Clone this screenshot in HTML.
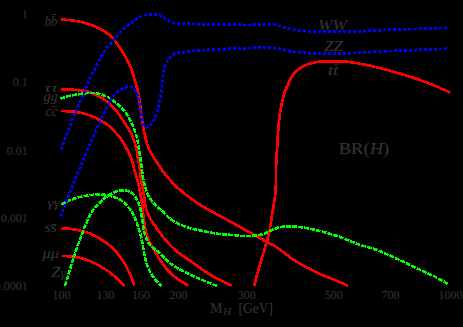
<!DOCTYPE html>
<html><head><meta charset="utf-8">
<style>
html,body{margin:0;padding:0;background:#000;}
body{width:463px;height:327px;overflow:hidden;}
svg{display:block;}
text{font-family:"Liberation Serif",serif;fill:#363636;}
.t{font-size:12px;}
.l{font-size:14.5px;font-style:italic;}
</style></head><body>
<svg width="463" height="327" viewBox="0 0 463 327">
<rect width="463" height="327" fill="#000"/>
<g class="t" text-anchor="end">
<text x="27.8" y="17.6">1</text>
<text x="27.8" y="86">0.1</text>
<text x="27.8" y="154.5">0.01</text>
<text x="27.8" y="222">0.001</text>
<text x="27.8" y="290.2">0.0001</text>
</g>
<g class="t" text-anchor="middle">
<text x="61.5" y="299.4">100</text>
<text x="105.6" y="299.4">130</text>
<text x="141" y="299.4">160</text>
<text x="178.6" y="299.4">200</text>
<text x="246.8" y="299.4">300</text>
<text x="333.7" y="299.4">500</text>
<text x="390.6" y="299.4">700</text>
<text x="450.6" y="299.4">1000</text>
</g>
<g class="l">
<text x="44.8" y="26.3" textLength="12.5" lengthAdjust="spacingAndGlyphs">bb</text>
<rect x="51.5" y="14" width="5" height="0.8" fill="#363636"/>
<text x="44" y="91.7" font-size="13.5" textLength="13.8" lengthAdjust="spacingAndGlyphs">ττ</text>
<text x="43.6" y="100.6" textLength="14.2" lengthAdjust="spacingAndGlyphs">gg</text>
<text x="45.6" y="115.6" textLength="11.7" lengthAdjust="spacingAndGlyphs">cc</text>
<rect x="51.8" y="106.4" width="5" height="0.8" fill="#363636"/>
<text x="47.5" y="207" font-size="11.5" textLength="12.3" lengthAdjust="spacingAndGlyphs">γγ</text>
<text x="44.5" y="232.4" textLength="12" lengthAdjust="spacingAndGlyphs">ss</text>
<rect x="51.5" y="224" width="5" height="0.8" fill="#363636"/>
<text x="42.5" y="257.5" textLength="16.5" lengthAdjust="spacingAndGlyphs">μμ</text>
<text x="51" y="276.5" textLength="15" lengthAdjust="spacingAndGlyphs">Z<tspan font-size="11.5">γ</tspan></text>
<text x="318" y="29.5" textLength="29" lengthAdjust="spacingAndGlyphs">WW</text>
<text x="324" y="51" textLength="19" lengthAdjust="spacingAndGlyphs">ZZ</text>
<text x="328" y="75" textLength="10.5" lengthAdjust="spacingAndGlyphs">tt</text>
<rect x="334" y="64.5" width="4.5" height="0.8" fill="#363636"/>
</g>
<text x="338.7" y="154" font-size="17.5" textLength="50.6" lengthAdjust="spacingAndGlyphs">BR(<tspan font-style="italic">H</tspan>)</text>
<text x="210.2" y="313.1" font-size="14.5" textLength="12.2" lengthAdjust="spacingAndGlyphs">M</text><text x="223" y="315.4" font-size="10" font-style="italic" textLength="8" lengthAdjust="spacingAndGlyphs">H</text><text x="238.4" y="313.1" font-size="14.5" textLength="34.6" lengthAdjust="spacingAndGlyphs">[GeV]</text>
<path d="M61.0,19.8 L62.5,19.8 L64.0,19.8 L65.5,19.8 L67.0,19.9 L68.5,20.0 L70.0,20.1 L71.5,20.3 L73.0,20.5 L74.5,20.7 L76.0,21.0 L77.5,21.2 L79.0,21.5 L80.4,21.9 L81.9,22.2 L83.4,22.6 L84.8,23.0 L86.3,23.4 L87.7,23.8 L89.1,24.3 L90.6,24.8 L92.0,25.3 L93.4,25.8 L94.8,26.4 L96.2,27.0 L97.5,27.6 L98.9,28.3 L100.2,28.9 L101.6,29.7 L102.9,30.4 L104.2,31.2 L105.4,32.1 L106.6,33.0 L107.8,33.9 L109.0,34.8 L110.1,35.8 L111.2,36.9 L112.3,37.9 L113.3,39.0 L114.3,40.2 L115.3,41.3 L116.2,42.5 L117.1,43.7 L118.0,45.0 L118.8,46.2 L119.7,47.5 L120.5,48.7 L121.3,50.0 L122.1,51.3 L122.9,52.5 L123.7,53.8 L124.5,55.1 L125.2,56.4 L126.0,57.7 L126.7,59.1 L127.4,60.4 L128.1,61.7 L128.8,63.1 L129.4,64.4 L130.0,65.8 L130.6,67.2 L131.2,68.6 L131.7,70.0 L132.2,71.4 L132.6,72.9 L133.1,74.3 L133.5,75.7 L133.9,77.2 L134.3,78.6 L134.7,80.1 L135.2,81.5 L135.6,83.0 L136.0,84.4 L136.4,85.9 L136.8,87.3 L137.2,88.8 L137.6,90.3 L137.9,91.7 L138.3,93.2 L138.5,94.7 L138.8,96.1 L139.0,97.6 L139.3,99.1 L139.5,100.6 L139.7,102.1 L139.9,103.6 L140.1,105.1 L140.3,106.6 L140.5,108.1 L140.7,109.6 L140.9,111.1 L141.1,112.6 L141.3,114.0 L141.5,115.5 L141.7,117.0 L141.9,118.5 L142.1,120.0 L142.3,121.5 L142.6,123.0 L142.8,124.5 L143.0,126.0 L143.3,127.4 L143.5,128.9 L143.8,130.4 L144.1,131.9 L144.4,133.4 L144.8,134.8 L145.1,136.3 L145.5,137.8 L145.8,139.2 L146.2,140.7 L146.6,142.1 L147.1,143.6 L147.5,145.0 L148.0,146.4 L148.6,147.8 L149.2,149.2 L149.9,150.5 L150.6,151.9 L151.3,153.2 L152.1,154.5 L152.8,155.8 L153.6,157.1 L154.4,158.4 L155.2,159.7 L156.0,160.9 L156.8,162.2 L157.6,163.5 L158.4,164.7 L159.3,166.0 L160.1,167.2 L161.0,168.5 L161.8,169.7 L162.7,170.9 L163.6,172.1 L164.5,173.4 L165.4,174.5 L166.4,175.7 L167.3,176.9 L168.3,178.0 L169.3,179.2 L170.3,180.3 L171.3,181.4 L172.3,182.5 L173.4,183.6 L174.4,184.7 L175.5,185.7 L176.6,186.7 L177.7,187.8 L178.8,188.8 L180.0,189.8 L181.1,190.8 L182.3,191.7 L183.4,192.7 L184.6,193.7 L185.7,194.6 L186.9,195.5 L188.1,196.5 L189.3,197.4 L190.5,198.3 L191.7,199.2 L192.9,200.1 L194.2,200.9 L195.4,201.8 L196.7,202.6 L197.9,203.4 L199.2,204.2 L200.5,205.0 L201.8,205.8 L203.1,206.6 L204.4,207.3 L205.7,208.1 L207.0,208.8 L208.3,209.6 L209.6,210.3 L210.9,211.0 L212.3,211.8 L213.6,212.5 L214.9,213.2 L216.2,213.9 L217.5,214.6 L218.9,215.4 L220.2,216.1 L221.5,216.8 L222.8,217.5 L224.2,218.2 L225.5,218.9 L226.8,219.7 L228.1,220.4 L229.4,221.1 L230.8,221.9 L232.1,222.6 L233.4,223.3 L234.7,224.1 L236.0,224.8 L237.3,225.5 L238.6,226.3 L239.9,227.0 L241.3,227.7 L242.6,228.5 L243.9,229.2 L245.2,229.9 L246.5,230.7 L247.8,231.4 L249.2,232.1 L250.5,232.9 L251.8,233.6 L253.1,234.3 L254.4,235.1 L255.7,235.8 L257.1,236.5 L258.4,237.2 L259.7,238.0 L261.0,238.7 L262.3,239.4 L263.7,240.1 L265.0,240.8 L266.3,241.5 L267.7,242.2 L269.0,242.9 L270.4,243.6 L271.7,244.3 L273.0,245.0 L274.3,245.8 L275.6,246.6 L276.9,247.4 L278.1,248.2 L279.3,249.1 L280.6,250.0 L281.7,250.9 L282.9,251.8 L284.1,252.7 L285.3,253.7 L286.5,254.6 L287.7,255.5 L288.9,256.5 L290.1,257.3 L291.3,258.2 L292.5,259.1 L293.8,259.9 L295.1,260.8 L296.3,261.6 L297.6,262.3 L298.9,263.1 L300.2,263.9 L301.5,264.6 L302.9,265.3 L304.2,266.0 L305.5,266.7 L306.9,267.4 L308.2,268.1 L309.5,268.8 L310.8,269.5 L312.2,270.2 L313.5,270.9 L314.9,271.6 L316.2,272.3 L317.6,272.9 L318.9,273.6 L320.3,274.2 L321.7,274.8 L323.1,275.3 L324.5,275.9 L325.9,276.4 L327.3,277.0 L328.7,277.5 L330.1,278.1 L331.5,278.6 L332.9,279.2 L334.3,279.8 L335.7,280.4 L337.0,281.0 L338.4,281.6 L339.8,282.2 L341.2,282.8 L342.5,283.4 L343.9,284.1 L345.3,284.7 L346.7,285.3 L348.0,285.9" fill="none" stroke="#ff0000" stroke-width="2.7" stroke-linejoin="round" shape-rendering="crispEdges"/>
<path d="M61.2,89.4 L62.7,89.4 L64.2,89.4 L65.8,89.4 L67.3,89.5 L68.8,89.5 L70.3,89.6 L71.8,89.7 L73.3,89.8 L74.8,89.9 L76.3,90.0 L77.8,90.1 L79.3,90.3 L80.8,90.5 L82.4,90.7 L83.9,90.9 L85.4,91.2 L86.9,91.5 L88.3,91.8 L89.8,92.2 L91.2,92.7 L92.6,93.3 L94.0,93.9 L95.4,94.5 L96.7,95.2 L98.1,95.9 L99.4,96.6 L100.7,97.4 L102.1,98.1 L103.3,98.9 L104.6,99.8 L105.8,100.7 L107.0,101.6 L108.2,102.6 L109.3,103.6 L110.4,104.7 L111.5,105.7 L112.5,106.8 L113.6,107.9 L114.6,109.0 L115.6,110.2 L116.6,111.3 L117.5,112.5 L118.4,113.7 L119.3,114.9 L120.2,116.2 L121.1,117.4 L121.9,118.7 L122.8,119.9 L123.6,121.2 L124.4,122.5 L125.2,123.7 L126.0,125.0 L126.9,126.3 L127.7,127.6 L128.5,128.9 L129.3,130.2 L130.0,131.5 L130.8,132.8 L131.5,134.1 L132.1,135.5 L132.7,136.9 L133.3,138.3 L133.8,139.7 L134.3,141.2 L134.8,142.6 L135.2,144.1 L135.6,145.5 L135.9,147.0 L136.3,148.5 L136.6,150.0 L136.9,151.4 L137.1,152.9 L137.3,154.4 L137.6,155.9 L137.8,157.4 L138.0,158.9 L138.3,160.4 L138.6,161.9 L138.9,163.4 L139.2,164.9 L139.5,166.4 L139.7,167.9 L140.0,169.4 L140.1,170.9 L140.3,172.4 L140.5,173.9 L140.6,175.4 L140.7,176.9 L140.9,178.4 L141.1,179.9 L141.3,181.4 L141.6,182.9 L141.9,184.4 L142.2,185.9 L142.5,187.4 L142.8,188.8 L143.1,190.3 L143.3,191.8 L143.6,193.3 L143.8,194.8 L144.0,196.3 L144.2,197.8 L144.4,199.3 L144.6,200.8 L144.8,202.3 L145.1,203.8 L145.3,205.3 L145.6,206.8 L146.0,208.3 L146.4,209.7 L146.9,211.2 L147.4,212.6 L148.0,214.0 L148.6,215.4 L149.3,216.7 L150.0,218.1 L150.7,219.4 L151.6,220.7 L152.4,221.9 L153.2,223.2 L154.1,224.4 L155.0,225.7 L155.9,226.9 L156.7,228.1 L157.6,229.4 L158.5,230.6 L159.4,231.8 L160.2,233.1 L161.1,234.3 L162.0,235.5 L162.9,236.7 L163.9,237.9 L164.8,239.1 L165.8,240.3 L166.8,241.4 L167.8,242.6 L168.8,243.7 L169.8,244.8 L170.9,245.9 L172.0,247.0 L173.1,248.0 L174.2,249.0 L175.3,250.0 L176.5,251.0 L177.6,252.0 L178.8,252.9 L180.0,253.8 L181.3,254.7 L182.5,255.6 L183.7,256.5 L185.0,257.4 L186.2,258.2 L187.5,259.1 L188.7,259.9 L190.0,260.7 L191.2,261.6 L192.5,262.5 L193.7,263.3 L195.0,264.2 L196.2,265.1 L197.4,266.0 L198.7,266.8 L199.9,267.7 L201.1,268.6 L202.4,269.5 L203.6,270.3 L204.9,271.2 L206.1,272.0 L207.4,272.8 L208.7,273.7 L210.0,274.5 L211.3,275.2 L212.6,276.0 L213.9,276.8 L215.2,277.5 L216.5,278.3 L217.9,279.0 L219.2,279.7 L220.5,280.4 L221.9,281.1 L223.2,281.8 L224.6,282.5 L225.9,283.2 L227.3,283.8 L228.6,284.5 L230.0,285.2 L231.3,285.9" fill="none" stroke="#ff0000" stroke-width="2.7" stroke-linejoin="round" shape-rendering="crispEdges"/>
<path d="M61.2,111.0 L62.7,111.0 L64.2,111.1 L65.7,111.1 L67.2,111.2 L68.8,111.3 L70.3,111.4 L71.8,111.5 L73.3,111.7 L74.8,111.9 L76.3,112.1 L77.8,112.3 L79.3,112.5 L80.8,112.8 L82.2,113.1 L83.7,113.5 L85.2,113.9 L86.6,114.3 L88.1,114.8 L89.5,115.3 L90.9,115.8 L92.3,116.4 L93.7,117.0 L95.0,117.7 L96.4,118.4 L97.7,119.1 L99.1,119.8 L100.4,120.5 L101.8,121.2 L103.1,122.0 L104.4,122.7 L105.7,123.5 L107.0,124.3 L108.2,125.2 L109.3,126.2 L110.4,127.2 L111.5,128.3 L112.6,129.4 L113.6,130.5 L114.7,131.6 L115.7,132.7 L116.7,133.8 L117.7,135.0 L118.7,136.1 L119.6,137.3 L120.6,138.5 L121.4,139.7 L122.3,141.0 L123.1,142.3 L123.8,143.6 L124.6,144.9 L125.3,146.2 L126.0,147.5 L126.7,148.9 L127.4,150.2 L128.1,151.6 L128.8,152.9 L129.4,154.3 L130.0,155.7 L130.6,157.1 L131.2,158.5 L131.7,159.9 L132.2,161.4 L132.7,162.8 L133.1,164.3 L133.5,165.7 L133.8,167.2 L134.1,168.7 L134.5,170.1 L134.9,171.6 L135.3,173.1 L135.7,174.5 L136.1,176.0 L136.5,177.4 L137.0,178.9 L137.4,180.3 L137.8,181.8 L138.2,183.2 L138.6,184.7 L138.9,186.2 L139.3,187.7 L139.6,189.1 L139.9,190.6 L140.1,192.1 L140.4,193.6 L140.6,195.1 L140.8,196.6 L141.1,198.1 L141.3,199.6 L141.6,201.1 L141.9,202.6 L142.1,204.1 L142.3,205.5 L142.5,207.0 L142.7,208.5 L142.8,210.1 L142.9,211.6 L143.0,213.1 L143.2,214.6 L143.3,216.1 L143.5,217.6 L143.7,219.1 L143.9,220.6 L144.2,222.1 L144.4,223.6 L144.7,225.1 L144.9,226.6 L145.2,228.1 L145.5,229.6 L145.8,231.1 L146.1,232.5 L146.5,234.0 L146.9,235.4 L147.3,236.9 L147.9,238.3 L148.4,239.7 L149.1,241.1 L149.8,242.4 L150.5,243.8 L151.2,245.1 L151.9,246.4 L152.7,247.7 L153.4,249.1 L154.2,250.4 L154.9,251.7 L155.7,253.0 L156.5,254.3 L157.2,255.6 L158.0,256.9 L158.8,258.2 L159.6,259.4 L160.5,260.7 L161.3,262.0 L162.2,263.2 L163.1,264.4 L164.0,265.6 L164.9,266.8 L165.9,268.0 L166.9,269.2 L167.9,270.3 L168.9,271.4 L170.0,272.5 L171.1,273.5 L172.2,274.6 L173.3,275.5 L174.5,276.5 L175.7,277.5 L176.9,278.4 L178.1,279.3 L179.3,280.1 L180.6,281.0 L181.9,281.8 L183.1,282.6 L184.4,283.4 L185.7,284.2 L187.0,285.1 L188.2,285.9" fill="none" stroke="#ff0000" stroke-width="2.7" stroke-linejoin="round" shape-rendering="crispEdges"/>
<path d="M61.5,228.3 L63.0,228.4 L64.6,228.4 L66.1,228.5 L67.6,228.7 L69.2,228.8 L70.7,229.0 L72.2,229.2 L73.8,229.4 L75.3,229.6 L76.8,229.9 L78.3,230.2 L79.8,230.5 L81.3,230.9 L82.8,231.3 L84.3,231.7 L85.8,232.1 L87.2,232.6 L88.7,233.1 L90.1,233.7 L91.6,234.3 L93.0,234.9 L94.4,235.6 L95.7,236.3 L97.1,237.0 L98.5,237.7 L99.8,238.5 L101.1,239.3 L102.4,240.2 L103.7,241.0 L105.0,241.9 L106.2,242.8 L107.4,243.7 L108.6,244.7 L109.8,245.7 L111.0,246.7 L112.1,247.8 L113.2,248.8 L114.3,249.9 L115.4,251.0 L116.4,252.2 L117.4,253.4 L118.4,254.6 L119.3,255.8 L120.3,257.0 L121.2,258.3 L122.0,259.5 L122.9,260.8 L123.7,262.1 L124.5,263.4 L125.3,264.7 L126.1,266.1 L126.8,267.4 L127.5,268.8 L128.2,270.2 L128.9,271.6 L129.5,273.0 L130.1,274.4 L130.7,275.8 L131.3,277.3 L131.8,278.7 L132.3,280.1 L132.9,281.6 L133.4,283.0 L134.0,284.5 L134.6,285.9" fill="none" stroke="#ff0000" stroke-width="2.7" stroke-linejoin="round" shape-rendering="crispEdges"/>
<path d="M61.5,256.0 L63.0,256.0 L64.6,256.1 L66.2,256.1 L67.7,256.2 L69.3,256.3 L70.8,256.5 L72.4,256.6 L73.9,256.8 L75.5,257.1 L77.0,257.3 L78.6,257.6 L80.1,258.0 L81.6,258.3 L83.1,258.7 L84.6,259.2 L86.1,259.7 L87.5,260.2 L89.0,260.8 L90.4,261.4 L91.8,262.0 L93.3,262.6 L94.7,263.3 L96.1,264.0 L97.4,264.8 L98.8,265.5 L100.2,266.2 L101.6,267.0 L102.9,267.8 L104.2,268.6 L105.5,269.5 L106.8,270.3 L108.1,271.2 L109.4,272.1 L110.6,273.1 L111.8,274.1 L113.0,275.1 L114.2,276.1 L115.3,277.1 L116.5,278.2 L117.6,279.3 L118.7,280.4 L119.8,281.5 L120.9,282.6 L122.0,283.7 L123.1,284.8 L124.2,285.9" fill="none" stroke="#ff0000" stroke-width="2.7" stroke-linejoin="round" shape-rendering="crispEdges"/>
<path d="M254.2,285.9 L254.6,284.4 L255.0,283.0 L255.4,281.5 L255.7,280.0 L256.1,278.6 L256.4,277.1 L256.8,275.6 L257.2,274.2 L257.6,272.7 L258.0,271.3 L258.4,269.8 L258.8,268.4 L259.2,266.9 L259.7,265.5 L260.1,264.0 L260.6,262.6 L261.0,261.1 L261.5,259.7 L261.9,258.2 L262.3,256.8 L262.8,255.4 L263.2,253.9 L263.6,252.5 L264.1,251.0 L264.5,249.6 L264.9,248.1 L265.3,246.7 L265.7,245.2 L266.2,243.8 L266.6,242.3 L267.0,240.9 L267.4,239.4 L267.8,237.9 L268.2,236.5 L268.6,235.0 L269.0,233.6 L269.3,232.1 L269.6,230.6 L269.9,229.1 L270.1,227.6 L270.4,226.1 L270.6,224.6 L270.8,223.1 L271.0,221.7 L271.2,220.2 L271.4,218.7 L271.7,217.2 L271.9,215.7 L272.1,214.2 L272.4,212.7 L272.6,211.2 L272.9,209.7 L273.2,208.2 L273.4,206.7 L273.7,205.2 L273.9,203.8 L274.1,202.3 L274.4,200.8 L274.6,199.3 L274.8,197.8 L275.0,196.3 L275.2,194.8 L275.3,193.3 L275.5,191.8 L275.6,190.3 L275.7,188.8 L275.8,187.2 L275.8,185.7 L275.9,184.2 L275.9,182.7 L276.0,181.2 L276.0,179.7 L276.0,178.2 L276.0,176.7 L276.0,175.2 L276.0,173.7 L276.0,172.1 L276.1,170.6 L276.1,169.1 L276.1,167.6 L276.1,166.1 L276.2,164.6 L276.2,163.1 L276.3,161.6 L276.3,160.1 L276.4,158.6 L276.5,157.0 L276.6,155.5 L276.7,154.0 L276.8,152.5 L276.9,151.0 L277.0,149.5 L277.1,148.0 L277.2,146.5 L277.3,145.0 L277.3,143.5 L277.4,142.0 L277.5,140.5 L277.6,138.9 L277.7,137.4 L277.8,135.9 L277.9,134.4 L278.0,132.9 L278.1,131.4 L278.2,129.9 L278.3,128.4 L278.5,126.9 L278.6,125.4 L278.8,123.9 L278.9,122.4 L279.1,120.9 L279.2,119.4 L279.4,117.9 L279.6,116.4 L279.8,114.9 L280.0,113.4 L280.2,111.9 L280.5,110.4 L280.7,108.9 L281.0,107.4 L281.3,106.0 L281.6,104.5 L281.9,103.0 L282.2,101.5 L282.6,100.0 L282.9,98.6 L283.3,97.1 L283.7,95.6 L284.1,94.2 L284.5,92.7 L285.0,91.3 L285.5,89.9 L286.1,88.5 L286.7,87.1 L287.4,85.8 L288.1,84.4 L288.7,83.1 L289.4,81.7 L290.1,80.3 L290.7,79.0 L291.4,77.6 L292.1,76.3 L293.0,75.0 L293.9,73.9 L294.9,72.7 L296.0,71.7 L297.2,70.7 L298.3,69.7 L299.6,68.8 L300.8,67.9 L302.0,67.1 L303.3,66.3 L304.7,65.6 L306.0,65.0 L307.4,64.4 L308.9,63.9 L310.3,63.5 L311.8,63.1 L313.3,62.7 L314.7,62.4 L316.2,62.1 L317.7,61.9 L319.2,61.7 L320.7,61.6 L322.2,61.5 L323.7,61.4 L325.2,61.3 L326.8,61.3 L328.3,61.2 L329.8,61.2 L331.3,61.2 L332.8,61.2 L334.3,61.2 L335.8,61.2 L337.3,61.2 L338.9,61.2 L340.4,61.3 L341.9,61.3 L343.4,61.4 L344.9,61.5 L346.4,61.6 L347.9,61.8 L349.4,62.0 L350.9,62.2 L352.4,62.4 L353.9,62.7 L355.4,62.9 L356.9,63.2 L358.3,63.5 L359.8,63.8 L361.3,64.0 L362.8,64.3 L364.3,64.6 L365.8,64.9 L367.2,65.2 L368.7,65.5 L370.2,65.8 L371.7,66.1 L373.1,66.4 L374.6,66.8 L376.1,67.1 L377.6,67.5 L379.0,67.8 L380.5,68.2 L382.0,68.5 L383.4,68.9 L384.9,69.3 L386.3,69.7 L387.8,70.1 L389.3,70.5 L390.7,70.9 L392.2,71.4 L393.6,71.8 L395.1,72.2 L396.5,72.7 L398.0,73.1 L399.4,73.5 L400.8,74.0 L402.3,74.4 L403.7,74.8 L405.2,75.3 L406.6,75.7 L408.1,76.2 L409.5,76.6 L411.0,77.1 L412.4,77.5 L413.8,78.0 L415.3,78.4 L416.7,78.9 L418.1,79.4 L419.6,79.9 L421.0,80.4 L422.4,80.9 L423.8,81.4 L425.3,81.9 L426.7,82.5 L428.1,83.0 L429.5,83.6 L430.9,84.1 L432.3,84.7 L433.7,85.3 L435.1,85.9 L436.5,86.4 L437.8,87.0 L439.2,87.6 L440.6,88.2 L442.0,88.9 L443.4,89.5 L444.8,90.1 L446.2,90.7 L447.5,91.3 L448.9,91.9 L450.3,92.5" fill="none" stroke="#ff0000" stroke-width="2.7" stroke-linejoin="round" shape-rendering="crispEdges"/>
<path d="M60.6,98.8 L62.0,98.2 L63.4,97.6 L64.8,97.1 L66.3,96.6 L67.7,96.2 L69.2,95.9 L70.6,95.6 L72.1,95.3 L73.6,95.0 L75.1,94.8 L76.6,94.5 L78.1,94.3 L79.6,94.1 L81.0,93.8 L82.5,93.6 L84.0,93.4 L85.5,93.2 L87.0,93.0 L88.5,92.9 L90.0,92.8 L91.5,92.8 L93.0,92.8 L94.6,93.0 L96.1,93.2 L97.5,93.4 L99.0,93.8 L100.5,94.1 L101.9,94.6 L103.3,95.1 L104.7,95.7 L106.1,96.3 L107.5,97.0 L108.8,97.7 L110.1,98.5 L111.3,99.3 L112.6,100.2 L113.7,101.1 L114.9,102.1 L116.1,103.0 L117.2,104.0 L118.3,105.0 L119.5,106.0 L120.6,107.1 L121.7,108.1 L122.7,109.2 L123.7,110.3 L124.7,111.5 L125.6,112.7 L126.5,113.9 L127.3,115.2 L128.1,116.5 L128.8,117.8 L129.5,119.1 L130.3,120.4 L131.0,121.8 L131.6,123.1 L132.3,124.5 L132.9,125.9 L133.5,127.2 L134.1,128.6 L134.6,130.0 L135.1,131.5 L135.6,132.9 L136.0,134.3 L136.4,135.8 L136.8,137.2 L137.1,138.7 L137.5,140.2 L137.7,141.7 L138.0,143.2 L138.3,144.6 L138.5,146.1 L138.8,147.6 L139.0,149.1 L139.3,150.6 L139.5,152.1 L139.7,153.6 L140.0,155.1 L140.2,156.5 L140.4,158.0 L140.6,159.5 L140.8,161.0 L141.0,162.5 L141.2,164.0 L141.4,165.5 L141.5,167.0 L141.7,168.5 L141.9,170.0 L142.1,171.5 L142.3,173.0 L142.5,174.5 L142.7,176.0 L142.9,177.5 L143.2,179.0 L143.5,180.4 L143.8,181.9 L144.2,183.4 L144.6,184.8 L145.0,186.3 L145.4,187.7 L145.8,189.2 L146.3,190.6 L146.8,192.0 L147.4,193.4 L148.0,194.8 L148.7,196.1 L149.4,197.5 L150.2,198.7 L151.1,200.0 L152.0,201.2 L152.9,202.4 L153.9,203.5 L154.9,204.6 L156.0,205.7 L157.1,206.7 L158.3,207.6 L159.4,208.6 L160.6,209.6 L161.7,210.6 L162.8,211.6 L163.9,212.7 L164.9,213.8 L166.0,214.9 L167.0,216.0 L168.1,217.0 L169.2,218.0 L170.4,219.0 L171.6,219.9 L172.8,220.7 L174.1,221.5 L175.4,222.3 L176.8,223.0 L178.1,223.7 L179.5,224.3 L180.9,224.9 L182.3,225.4 L183.7,226.0 L185.1,226.5 L186.6,227.0 L188.0,227.4 L189.4,227.9 L190.9,228.3 L192.3,228.7 L193.8,229.0 L195.3,229.4 L196.7,229.7 L198.2,230.1 L199.7,230.4 L201.2,230.7 L202.6,231.0 L204.1,231.3 L205.6,231.6 L207.1,231.9 L208.6,232.2 L210.0,232.4 L211.5,232.7 L213.0,233.0 L214.5,233.2 L216.0,233.5 L217.5,233.7 L219.0,233.9 L220.5,234.1 L222.0,234.2 L223.5,234.4 L225.0,234.5 L226.5,234.6 L228.0,234.7 L229.5,234.8 L231.0,234.9 L232.5,235.0 L234.0,235.1 L235.5,235.3 L237.0,235.4 L238.5,235.6 L240.0,235.8 L241.5,235.9 L243.0,236.0 L244.5,236.1 L246.0,236.1 L247.5,236.0 L249.0,236.0 L250.5,235.9 L252.0,235.7 L253.5,235.6 L255.1,235.5 L256.6,235.3 L258.1,235.1 L259.6,234.9 L261.1,234.6 L262.5,234.2 L264.0,233.8 L265.4,233.4 L266.8,232.8 L268.1,232.2 L269.5,231.5 L270.8,230.8 L272.2,230.1 L273.5,229.4 L274.9,228.8 L276.3,228.3 L277.7,227.8 L279.2,227.4 L280.7,227.1 L282.2,226.8 L283.7,226.6 L285.2,226.5 L286.7,226.4 L288.2,226.3 L289.7,226.3 L291.2,226.3 L292.7,226.4 L294.2,226.4 L295.7,226.6 L297.2,226.7 L298.7,226.9 L300.2,227.1 L301.7,227.3 L303.2,227.5 L304.7,227.8 L306.2,228.0 L307.7,228.3 L309.1,228.6 L310.6,228.9 L312.1,229.2 L313.6,229.5 L315.0,229.8 L316.5,230.2 L318.0,230.5 L319.4,230.9 L320.9,231.3 L322.3,231.6 L323.8,232.0 L325.3,232.4 L326.7,232.8 L328.2,233.3 L329.6,233.7 L331.0,234.1 L332.5,234.6 L333.9,235.0 L335.4,235.5 L336.8,235.9 L338.2,236.4 L339.6,236.9 L341.1,237.4 L342.5,238.0 L343.9,238.5 L345.3,239.1 L346.7,239.6 L348.1,240.2 L349.5,240.8 L350.9,241.4 L352.3,241.9 L353.7,242.5 L355.1,243.1 L356.5,243.6 L357.9,244.1 L359.3,244.6 L360.7,245.1 L362.2,245.5 L363.6,245.9 L365.1,246.3 L366.5,246.7 L368.0,247.2 L369.4,247.6 L370.9,248.0 L372.3,248.4 L373.7,248.9 L375.2,249.4 L376.6,249.9 L378.0,250.5 L379.4,251.0 L380.8,251.6 L382.2,252.2 L383.6,252.8 L384.9,253.4 L386.3,254.0 L387.7,254.6 L389.1,255.2 L390.5,255.8 L391.8,256.5 L393.2,257.1 L394.6,257.7 L395.9,258.3 L397.3,259.0 L398.7,259.6 L400.0,260.3 L401.4,260.9 L402.8,261.6 L404.1,262.2 L405.5,262.9 L406.8,263.5 L408.2,264.2 L409.5,264.8 L410.9,265.5 L412.3,266.1 L413.6,266.8 L415.0,267.4 L416.3,268.1 L417.7,268.7 L419.1,269.3 L420.4,270.0 L421.8,270.6 L423.2,271.2 L424.6,271.8 L425.9,272.5 L427.3,273.1 L428.7,273.7 L430.0,274.4 L431.4,275.0 L432.8,275.7 L434.1,276.3 L435.5,277.0 L436.8,277.7 L438.1,278.4 L439.5,279.1 L440.8,279.8 L442.1,280.5 L443.4,281.3 L444.7,282.0 L446.0,282.8 L447.3,283.6 L448.6,284.4" fill="none" stroke="#00ff00" stroke-width="2.6" stroke-dasharray="4.8 1.2" stroke-linejoin="round" shape-rendering="crispEdges"/>
<path d="M61.2,204.5 L62.5,203.8 L63.9,203.0 L65.2,202.4 L66.6,201.7 L68.0,201.1 L69.4,200.5 L70.8,199.9 L72.2,199.4 L73.6,198.8 L75.1,198.4 L76.5,197.9 L78.0,197.5 L79.5,197.1 L80.9,196.8 L82.4,196.5 L83.9,196.2 L85.4,195.9 L86.9,195.7 L88.4,195.4 L89.9,195.2 L91.4,195.0 L92.9,194.8 L94.4,194.6 L96.0,194.5 L97.5,194.4 L99.0,194.4 L100.5,194.4 L102.0,194.5 L103.5,194.6 L105.1,194.8 L106.6,195.0 L108.1,195.3 L109.5,195.6 L111.0,196.0 L112.4,196.5 L113.9,197.0 L115.3,197.5 L116.8,198.0 L118.2,198.6 L119.5,199.3 L120.8,200.1 L122.0,201.0 L123.2,202.0 L124.3,203.0 L125.4,204.1 L126.5,205.2 L127.5,206.3 L128.5,207.4 L129.5,208.6 L130.4,209.8 L131.2,211.0 L132.0,212.3 L132.8,213.7 L133.5,215.0 L134.1,216.4 L134.8,217.8 L135.4,219.2 L135.9,220.6 L136.5,222.0 L137.0,223.4 L137.6,224.8 L138.1,226.3 L138.6,227.7 L139.0,229.2 L139.5,230.6 L139.9,232.1 L140.3,233.5 L140.6,235.0 L141.0,236.5 L141.3,238.0 L141.6,239.5 L141.9,241.0 L142.2,242.5 L142.4,244.0 L142.7,245.4 L142.9,246.9 L143.2,248.4 L143.4,249.9 L143.7,251.4 L144.0,252.9 L144.3,254.4 L144.6,255.9 L144.9,257.4 L145.3,258.9 L145.7,260.3 L146.2,261.8 L146.6,263.2 L147.1,264.7 L147.6,266.1 L148.2,267.5 L148.8,268.9 L149.4,270.3 L150.1,271.7 L150.8,273.0 L151.5,274.4 L152.3,275.6 L153.2,276.9 L154.1,278.1 L155.1,279.3 L156.1,280.4 L157.2,281.5 L158.2,282.6 L159.3,283.7 L160.3,284.8 L161.3,285.9" fill="none" stroke="#00ff00" stroke-width="2.6" stroke-dasharray="4.8 1.2" stroke-linejoin="round" shape-rendering="crispEdges"/>
<path d="M64.9,285.9 L65.4,284.5 L65.8,283.0 L66.3,281.6 L66.8,280.2 L67.2,278.7 L67.7,277.3 L68.1,275.8 L68.6,274.4 L69.0,272.9 L69.4,271.5 L69.8,270.0 L70.3,268.6 L70.7,267.1 L71.1,265.7 L71.5,264.2 L71.9,262.8 L72.3,261.3 L72.8,259.9 L73.2,258.5 L73.7,257.0 L74.2,255.6 L74.7,254.2 L75.1,252.7 L75.6,251.3 L76.1,249.9 L76.7,248.5 L77.2,247.0 L77.7,245.6 L78.2,244.2 L78.8,242.8 L79.3,241.4 L79.8,240.0 L80.3,238.6 L80.9,237.2 L81.4,235.7 L81.9,234.3 L82.5,232.9 L83.0,231.5 L83.5,230.1 L84.0,228.7 L84.6,227.3 L85.1,225.9 L85.7,224.4 L86.3,223.1 L86.9,221.7 L87.5,220.3 L88.1,218.9 L88.7,217.5 L89.4,216.2 L90.1,214.9 L90.9,213.6 L91.7,212.3 L92.5,211.0 L93.4,209.8 L94.3,208.6 L95.2,207.4 L96.3,206.3 L97.3,205.2 L98.4,204.1 L99.5,203.1 L100.6,202.0 L101.6,201.0 L102.7,199.9 L103.8,198.8 L104.9,197.8 L106.1,196.9 L107.3,196.1 L108.6,195.3 L109.9,194.5 L111.3,193.8 L112.6,193.1 L114.0,192.4 L115.3,191.7 L116.7,191.2 L118.2,190.8 L119.7,190.5 L121.2,190.4 L122.7,190.4 L124.2,190.5 L125.7,190.6 L127.2,191.0 L128.7,191.4 L130.0,192.0 L131.4,192.8 L132.6,193.7 L133.7,194.7 L134.6,195.9 L135.5,197.1 L136.2,198.4 L136.9,199.8 L137.6,201.2 L138.3,202.5 L138.9,203.9 L139.4,205.3 L139.8,206.8 L140.2,208.2 L140.5,209.7 L140.8,211.2 L141.1,212.7 L141.3,214.2 L141.6,215.7 L141.9,217.1 L142.1,218.6 L142.3,220.1 L142.6,221.6 L142.8,223.1 L143.0,224.6 L143.2,226.1 L143.4,227.6 L143.6,229.1 L143.9,230.6 L144.2,232.0 L144.6,233.5 L145.0,235.0 L145.5,236.4 L146.0,237.8 L146.6,239.2 L147.3,240.6 L148.0,241.9 L148.8,243.2 L149.7,244.4 L150.6,245.6 L151.7,246.7 L152.8,247.7 L154.0,248.6 L155.2,249.5 L156.5,250.4 L157.6,251.3 L158.8,252.3 L159.9,253.3 L161.0,254.4 L162.0,255.5 L163.0,256.6 L164.1,257.7 L165.1,258.8 L166.2,259.8 L167.3,260.9 L168.5,261.8 L169.7,262.8 L170.9,263.7 L172.1,264.6 L173.3,265.4 L174.6,266.3 L175.9,267.1 L177.2,267.9 L178.5,268.6 L179.8,269.4 L181.1,270.1 L182.5,270.8 L183.8,271.5 L185.2,272.2 L186.5,272.8 L187.9,273.5 L189.2,274.1 L190.6,274.8 L192.0,275.4 L193.3,276.1 L194.7,276.7 L196.1,277.3 L197.4,277.9 L198.8,278.5 L200.2,279.1 L201.6,279.7 L203.0,280.3 L204.4,280.9 L205.8,281.5 L207.2,282.0 L208.6,282.6 L210.0,283.1 L211.4,283.7 L212.8,284.2 L214.2,284.8 L215.6,285.3 L217.0,285.9" fill="none" stroke="#00ff00" stroke-width="2.6" stroke-dasharray="4.8 1.2" stroke-linejoin="round" shape-rendering="crispEdges"/>
<path d="M61.0,149.5 L61.6,148.1 L62.2,146.7 L62.8,145.3 L63.3,143.9 L63.9,142.5 L64.4,141.1 L64.9,139.7 L65.4,138.3 L66.0,136.9 L66.5,135.5 L67.0,134.1 L67.5,132.6 L68.0,131.2 L68.5,129.8 L69.0,128.4 L69.5,127.0 L70.1,125.6 L70.6,124.1 L71.1,122.7 L71.7,121.3 L72.2,119.9 L72.8,118.5 L73.4,117.1 L73.9,115.8 L74.5,114.4 L75.1,113.0 L75.7,111.6 L76.3,110.2 L76.9,108.8 L77.5,107.5 L78.1,106.1 L78.8,104.7 L79.4,103.3 L80.0,102.0 L80.6,100.6 L81.3,99.2 L81.9,97.9 L82.5,96.5 L83.1,95.1 L83.7,93.7 L84.3,92.4 L84.9,91.0 L85.4,89.6 L86.0,88.1 L86.5,86.7 L87.0,85.3 L87.5,83.9 L88.1,82.5 L88.7,81.1 L89.3,79.7 L89.9,78.4 L90.5,77.0 L91.2,75.7 L91.9,74.3 L92.6,73.0 L93.3,71.7 L94.0,70.3 L94.7,69.0 L95.4,67.7 L96.1,66.3 L96.8,65.0 L97.5,63.6 L98.2,62.3 L98.9,60.9 L99.6,59.6 L100.3,58.3 L101.0,57.0 L101.8,55.7 L102.6,54.4 L103.4,53.1 L104.2,51.9 L105.1,50.7 L106.0,49.4 L106.9,48.2 L107.8,47.0 L108.7,45.9 L109.7,44.7 L110.6,43.5 L111.6,42.4 L112.6,41.2 L113.5,40.1 L114.5,38.9 L115.5,37.8 L116.5,36.7 L117.5,35.5 L118.5,34.4 L119.6,33.3 L120.6,32.2 L121.7,31.1 L122.7,30.1 L123.8,29.0 L124.9,28.0 L126.0,27.0 L127.2,26.0 L128.3,25.1 L129.5,24.1 L130.7,23.2 L131.9,22.3 L133.1,21.4 L134.3,20.5 L135.6,19.7 L136.8,18.8 L138.1,18.0 L139.4,17.3 L140.8,16.6 L142.2,16.0 L143.6,15.5 L145.0,15.1 L146.5,14.8 L148.0,14.6 L149.5,14.5 L151.0,14.5 L152.5,14.5 L154.1,14.6 L155.6,14.7 L157.1,14.9 L158.5,15.2 L160.0,15.7 L161.3,16.2 L162.7,16.9 L164.0,17.7 L165.3,18.5 L166.5,19.4 L167.8,20.2 L169.1,21.1 L170.4,21.8 L171.7,22.4 L173.2,22.9 L174.6,23.2 L176.1,23.3 L177.6,23.4 L179.2,23.5 L180.7,23.5 L182.2,23.5 L183.7,23.6 L185.3,23.6 L186.8,23.7 L188.2,23.8 L189.7,23.8 L191.2,23.9 L192.7,24.0 L194.2,24.0 L195.7,24.1 L197.3,24.1 L198.8,24.1 L200.3,24.2 L201.8,24.2 L203.3,24.2 L204.8,24.2 L206.3,24.2 L207.8,24.2 L209.3,24.3 L210.8,24.3 L212.3,24.3 L213.8,24.3 L215.3,24.3 L216.8,24.3 L218.3,24.3 L219.8,24.3 L221.4,24.3 L222.9,24.4 L224.4,24.4 L225.9,24.4 L227.4,24.4 L228.9,24.5 L230.4,24.5 L231.9,24.5 L233.4,24.6 L234.9,24.6 L236.4,24.7 L237.9,24.7 L239.4,24.8 L240.9,24.8 L242.4,24.8 L243.9,24.9 L245.4,24.9 L246.9,24.9 L248.4,24.9 L250.0,24.9 L251.5,24.8 L253.0,24.8 L254.5,24.7 L256.0,24.6 L257.5,24.5 L259.1,24.4 L260.6,24.4 L262.1,24.3 L263.6,24.2 L265.1,24.2 L266.6,24.2 L268.1,24.2 L269.6,24.3 L271.1,24.4 L272.6,24.5 L274.1,24.8 L275.6,25.0 L277.0,25.3 L278.5,25.7 L279.9,26.1 L281.4,26.5 L282.8,27.0 L284.3,27.4 L285.7,27.8 L287.2,28.2 L288.7,28.6 L290.1,28.9 L291.6,29.2 L293.1,29.5 L294.5,29.8 L296.0,30.0 L297.5,30.2 L299.0,30.3 L300.5,30.5 L302.0,30.6 L303.5,30.7 L305.0,30.9 L306.5,31.0 L308.0,31.1 L309.5,31.3 L311.0,31.4 L312.5,31.5 L314.0,31.6 L315.5,31.6 L317.1,31.7 L318.6,31.7 L320.1,31.7 L321.6,31.7 L323.1,31.7 L324.6,31.7 L326.1,31.7 L327.6,31.7 L329.1,31.7 L330.6,31.7 L332.1,31.7 L333.6,31.7 L335.1,31.7 L336.6,31.7 L338.1,31.7 L339.6,31.7 L341.2,31.7 L342.7,31.7 L344.2,31.7 L345.7,31.7 L347.2,31.7 L348.7,31.7 L350.2,31.6 L351.7,31.6 L353.2,31.6 L354.7,31.5 L356.2,31.5 L357.7,31.4 L359.2,31.3 L360.7,31.3 L362.2,31.2 L363.7,31.1 L365.2,31.1 L366.7,31.0 L368.2,30.9 L369.7,30.8 L371.3,30.7 L372.8,30.7 L374.3,30.6 L375.8,30.5 L377.3,30.4 L378.8,30.3 L380.3,30.3 L381.8,30.2 L383.3,30.1 L384.8,30.0 L386.3,30.0 L387.8,29.9 L389.3,29.8 L390.8,29.8 L392.3,29.7 L393.8,29.6 L395.3,29.6 L396.8,29.5 L398.3,29.4 L399.8,29.4 L401.3,29.3 L402.8,29.3 L404.3,29.2 L405.9,29.2 L407.4,29.1 L408.9,29.1 L410.4,29.0 L411.9,29.0 L413.4,29.0 L414.9,28.9 L416.4,28.9 L417.9,28.8 L419.4,28.8 L420.9,28.7 L422.4,28.7 L423.9,28.6 L425.4,28.6 L426.9,28.6 L428.4,28.5 L429.9,28.5 L431.4,28.4 L432.9,28.4 L434.5,28.3 L436.0,28.3 L437.5,28.2 L439.0,28.2 L440.5,28.1 L442.0,28.0 L443.5,28.0 L445.0,27.9 L446.5,27.8 L448.0,27.8 L449.5,27.7" fill="none" stroke="#0000ff" stroke-width="2.8" stroke-dasharray="3 2.05" stroke-linejoin="round" shape-rendering="crispEdges"/>
<path d="M60.5,216.5 L61.1,215.1 L61.6,213.7 L62.2,212.3 L62.7,210.9 L63.3,209.5 L63.8,208.1 L64.3,206.7 L64.8,205.2 L65.3,203.8 L65.9,202.4 L66.4,201.0 L66.9,199.6 L67.5,198.2 L68.0,196.8 L68.6,195.4 L69.2,194.0 L69.7,192.6 L70.3,191.2 L70.9,189.8 L71.4,188.4 L72.0,187.0 L72.5,185.6 L73.1,184.2 L73.6,182.8 L74.2,181.4 L74.8,180.0 L75.3,178.6 L75.9,177.2 L76.5,175.8 L77.1,174.4 L77.7,173.1 L78.3,171.7 L78.9,170.3 L79.6,168.9 L80.2,167.6 L80.8,166.2 L81.4,164.8 L82.0,163.4 L82.5,162.0 L83.1,160.6 L83.6,159.2 L84.2,157.8 L84.7,156.4 L85.3,155.0 L85.8,153.6 L86.4,152.2 L87.0,150.8 L87.5,149.4 L88.1,148.0 L88.7,146.6 L89.3,145.3 L89.9,143.9 L90.6,142.5 L91.2,141.1 L91.8,139.8 L92.4,138.4 L93.0,137.0 L93.7,135.6 L94.3,134.3 L94.9,132.9 L95.5,131.5 L96.1,130.1 L96.7,128.7 L97.3,127.4 L97.9,126.0 L98.6,124.6 L99.2,123.2 L99.8,121.9 L100.4,120.5 L101.0,119.1 L101.7,117.7 L102.3,116.4 L103.0,115.0 L103.6,113.7 L104.3,112.3 L105.0,111.0 L105.7,109.6 L106.3,108.3 L107.0,107.0 L107.7,105.6 L108.4,104.2 L109.0,102.9 L109.7,101.6 L110.5,100.2 L111.2,98.9 L112.0,97.7 L112.9,96.4 L113.9,95.2 L114.9,94.1 L115.9,93.0 L117.0,92.0 L118.2,91.1 L119.4,90.2 L120.7,89.4 L122.0,88.7 L123.4,88.1 L124.9,87.5 L126.4,87.1 L127.9,86.8 L129.4,86.7 L130.9,86.9 L132.2,87.5 L133.5,88.3 L134.5,89.5 L135.5,90.8 L136.3,92.1 L136.9,93.5 L137.4,95.0 L137.8,96.4 L138.2,97.9 L138.5,99.3 L138.7,100.8 L139.0,102.3 L139.2,103.8 L139.5,105.3 L139.8,106.8 L140.0,108.3 L140.3,109.8 L140.6,111.2 L140.9,112.6 L141.2,114.0 L141.5,115.4 L141.8,116.9 L142.1,118.4 L142.4,120.0 L142.7,121.7 L143.0,123.5 L143.4,125.0 L144.1,126.3 L145.1,127.0 L146.5,127.2 L148.0,126.8 L149.5,126.0 L150.8,125.0 L151.9,123.9 L152.7,122.7 L153.4,121.3 L154.0,120.0 L154.6,118.6 L155.2,117.2 L155.7,115.8 L156.2,114.4 L156.7,112.9 L157.2,111.5 L157.6,110.0 L158.0,108.6 L158.4,107.1 L158.7,105.7 L159.0,104.2 L159.4,102.7 L159.7,101.2 L159.9,99.8 L160.2,98.3 L160.4,96.8 L160.7,95.3 L160.9,93.8 L161.2,92.3 L161.4,90.8 L161.6,89.3 L161.8,87.8 L162.0,86.3 L162.2,84.9 L162.4,83.4 L162.5,81.9 L162.6,80.4 L162.8,78.9 L162.9,77.4 L163.1,75.9 L163.2,74.4 L163.4,72.9 L163.7,71.4 L164.0,69.9 L164.3,68.4 L164.8,67.0 L165.3,65.5 L165.9,64.2 L166.5,62.8 L167.3,61.5 L168.1,60.2 L169.0,59.0 L169.9,57.8 L170.9,56.6 L172.0,55.6 L173.2,54.7 L174.5,54.0 L175.9,53.5 L177.4,53.1 L178.9,52.8 L180.4,52.6 L182.0,52.4 L183.5,52.2 L185.0,52.0 L186.5,51.8 L187.9,51.7 L189.4,51.5 L190.9,51.3 L192.4,51.1 L193.9,51.0 L195.4,50.8 L196.9,50.6 L198.4,50.5 L199.9,50.3 L201.4,50.2 L202.9,50.0 L204.4,49.9 L205.9,49.9 L207.4,49.8 L208.9,49.7 L210.4,49.7 L211.9,49.6 L213.5,49.6 L215.0,49.5 L216.5,49.5 L218.0,49.4 L219.5,49.4 L221.0,49.3 L222.5,49.2 L224.0,49.1 L225.5,49.1 L227.0,49.0 L228.5,48.9 L230.0,48.8 L231.5,48.8 L233.0,48.7 L234.5,48.7 L236.0,48.6 L237.5,48.5 L239.0,48.5 L240.6,48.4 L242.1,48.4 L243.6,48.3 L245.1,48.3 L246.6,48.2 L248.1,48.2 L249.6,48.1 L251.1,48.0 L252.6,48.0 L254.1,47.9 L255.6,47.8 L257.1,47.8 L258.6,47.7 L260.2,47.6 L261.7,47.6 L263.2,47.5 L264.7,47.5 L266.2,47.5 L267.7,47.6 L269.2,47.6 L270.7,47.7 L272.2,47.8 L273.7,48.0 L275.2,48.1 L276.7,48.4 L278.2,48.6 L279.7,48.8 L281.1,49.1 L282.6,49.4 L284.1,49.8 L285.5,50.2 L287.0,50.5 L288.5,50.9 L289.9,51.2 L291.4,51.5 L292.9,51.7 L294.4,51.9 L295.9,52.1 L297.4,52.2 L298.9,52.4 L300.4,52.5 L301.9,52.6 L303.4,52.7 L304.9,52.8 L306.4,52.9 L307.9,53.0 L309.4,53.1 L310.9,53.1 L312.4,53.2 L314.0,53.3 L315.5,53.3 L317.0,53.4 L318.5,53.4 L320.0,53.4 L321.5,53.5 L323.0,53.5 L324.5,53.5 L326.0,53.5 L327.5,53.5 L329.0,53.5 L330.5,53.5 L332.0,53.5 L333.5,53.5 L335.1,53.5 L336.6,53.5 L338.1,53.4 L339.6,53.4 L341.1,53.4 L342.6,53.3 L344.1,53.3 L345.6,53.2 L347.1,53.2 L348.6,53.1 L350.1,53.1 L351.6,53.0 L353.1,53.0 L354.6,52.9 L356.1,52.8 L357.6,52.8 L359.2,52.7 L360.7,52.6 L362.2,52.5 L363.7,52.5 L365.2,52.4 L366.7,52.3 L368.2,52.2 L369.7,52.1 L371.2,52.0 L372.7,52.0 L374.2,51.9 L375.7,51.8 L377.2,51.7 L378.7,51.6 L380.2,51.6 L381.7,51.5 L383.2,51.4 L384.7,51.3 L386.2,51.2 L387.8,51.2 L389.3,51.1 L390.8,51.0 L392.3,50.9 L393.8,50.9 L395.3,50.8 L396.8,50.7 L398.3,50.6 L399.8,50.6 L401.3,50.5 L402.8,50.4 L404.3,50.4 L405.8,50.3 L407.3,50.3 L408.8,50.2 L410.3,50.1 L411.8,50.1 L413.4,50.0 L414.9,50.0 L416.4,49.9 L417.9,49.8 L419.4,49.8 L420.9,49.7 L422.4,49.7 L423.9,49.6 L425.4,49.6 L426.9,49.5 L428.4,49.5 L429.9,49.4 L431.4,49.4 L432.9,49.3 L434.4,49.3 L435.9,49.2 L437.5,49.2 L439.0,49.1 L440.5,49.0 L442.0,49.0 L443.5,48.9 L445.0,48.9 L446.5,48.8 L448.0,48.8 L449.5,48.7" fill="none" stroke="#0000ff" stroke-width="2.8" stroke-dasharray="3 2.05" stroke-linejoin="round" shape-rendering="crispEdges"/>
</svg>
</body></html>
